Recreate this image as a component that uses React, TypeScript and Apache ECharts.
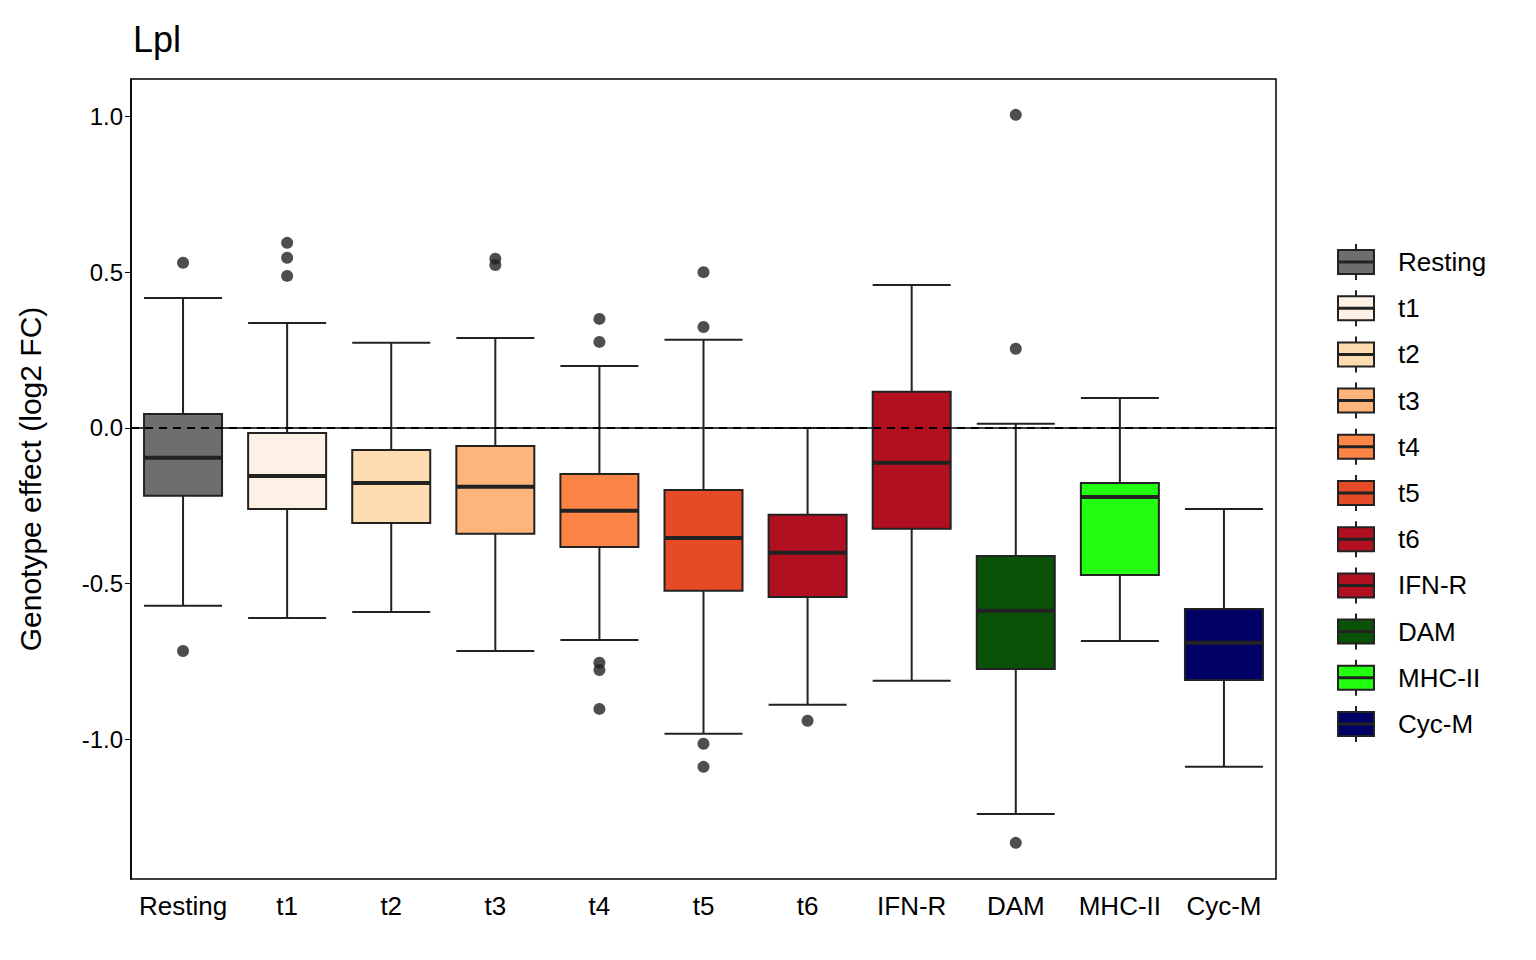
import React, { useEffect, useRef } from 'react';
import * as echarts from 'echarts';

const categories = ['Resting', 't1', 't2', 't3', 't4', 't5', 't6', 'IFN-R', 'DAM', 'MHC-II', 'Cyc-M'];
const colors = ['#6e6e6e', '#fdf0e4', '#fddcb0', '#fdb57c', '#fd8447', '#e54b26', '#b01020', '#b01020', '#0a5208', '#22ff11', '#000066'];
// [low, Q1, median, Q3, high]
const boxes = [
  [-0.571, -0.218, -0.096, 0.045, 0.417],
  [-0.61, -0.26, -0.154, -0.016, 0.337],
  [-0.591, -0.305, -0.177, -0.071, 0.273],
  [-0.716, -0.34, -0.189, -0.058, 0.289],
  [-0.681, -0.382, -0.266, -0.148, 0.199],
  [-0.982, -0.523, -0.353, -0.199, 0.283],
  [-0.889, -0.543, -0.401, -0.279, 0.0],
  [-0.812, -0.324, -0.112, 0.116, 0.459],
  [-1.239, -0.774, -0.587, -0.411, 0.013],
  [-0.684, -0.472, -0.222, -0.177, 0.096],
  [-1.088, -0.809, -0.69, -0.581, -0.26],
];
const outliers: [number, number][] = [
  [0, 0.53], [0, -0.716],
  [1, 0.594], [1, 0.546], [1, 0.488],
  [3, 0.543], [3, 0.523],
  [4, 0.35], [4, 0.276], [4, -0.754], [4, -0.777], [4, -0.902],
  [5, 0.5], [5, 0.324], [5, -1.014], [5, -1.088],
  [6, -0.94],
  [8, 1.005], [8, 0.254], [8, -1.332],
];
const yTicks = [-1.0, -0.5, 0.0, 0.5, 1.0];

const FONT = 'Liberation Sans, Arial, sans-serif';

const App: React.FC = () => {
  const ref = useRef<HTMLDivElement>(null);

  useEffect(() => {
    document.body.style.margin = '0';
    if (!ref.current) return;
    const chart = echarts.init(ref.current, undefined, { renderer: 'svg' });

    const legend: any[] = [];
    categories.forEach((c, i) => {
      const cy = 262 + i * 46.2;
      legend.push(
        { type: 'line', shape: { x1: 1356, y1: cy - 18, x2: 1356, y2: cy + 18 }, style: { stroke: '#222', lineWidth: 2 } },
        { type: 'rect', shape: { x: 1338, y: cy - 12, width: 36, height: 24 }, style: { fill: colors[i], stroke: '#222', lineWidth: 2 } },
        { type: 'line', shape: { x1: 1338, y1: cy, x2: 1374, y2: cy }, style: { stroke: '#222', lineWidth: 3 } },
        { type: 'text', x: 1398, y: cy, style: { text: c, fill: '#000', font: `26px ${FONT}`, textVerticalAlign: 'middle' } },
      );
    });

    chart.setOption({
      animation: false,
      title: { text: 'Lpl', left: 128, top: 16, textStyle: { fontSize: 36, fontWeight: 'normal', color: '#000', fontFamily: FONT } },
      grid: { left: 131, right: 260, top: 79, bottom: 81, show: true, borderColor: '#000', borderWidth: 1.5 },
      xAxis: {
        type: 'category',
        data: categories,
        axisLine: { lineStyle: { color: '#000', width: 1.5 } },
        axisTick: { alignWithLabel: true, length: 6, lineStyle: { color: '#000' } },
        axisLabel: { fontSize: 26, color: '#000', fontFamily: FONT, margin: 14, interval: 0 },
      },
      yAxis: {
        type: 'value',
        min: -1.448,
        max: 1.12,
        name: 'Genotype effect (log2 FC)',
        nameLocation: 'middle',
        nameGap: 86,
        nameTextStyle: { fontSize: 30, color: '#000', fontFamily: FONT },
        splitLine: { show: false },
        axisLine: { show: true, lineStyle: { color: '#000', width: 1.5 } },
        axisTick: { show: true, length: 6, customValues: yTicks, lineStyle: { color: '#000' } },
        axisLabel: { fontSize: 24, color: '#000', fontFamily: FONT, customValues: yTicks, formatter: (v: number) => v.toFixed(1) },
      },
      graphic: legend,
      series: [
        {
          type: 'boxplot',
          boxWidth: [78, 78],
          data: boxes.map((b, i) => ({ value: b, itemStyle: { color: colors[i], borderColor: '#222', borderWidth: 2 } })),
          markLine: {
            silent: true,
            symbol: 'none',
            label: { show: false },
            lineStyle: { color: '#000', type: [8, 6], width: 2 },
            data: [{ yAxis: 0 }],
          },
        },
        {
          type: 'custom',
          data: boxes.map((b, i) => [i, b[2]]),
          renderItem: (params: any, api: any) => {
            const p = api.coord([api.value(0), api.value(1)]);
            return { type: 'line', shape: { x1: p[0] - 39, y1: p[1], x2: p[0] + 39, y2: p[1] }, style: { stroke: '#222', lineWidth: 4 } };
          },
          z: 5,
        },
        {
          type: 'scatter',
          data: outliers,
          symbolSize: 12,
          itemStyle: { color: '#222' },
        },
      ],
    });

    return () => chart.dispose();
  }, []);

  return <div ref={ref} style={{ width: 1536, height: 960 }} />;
};

export default App;
